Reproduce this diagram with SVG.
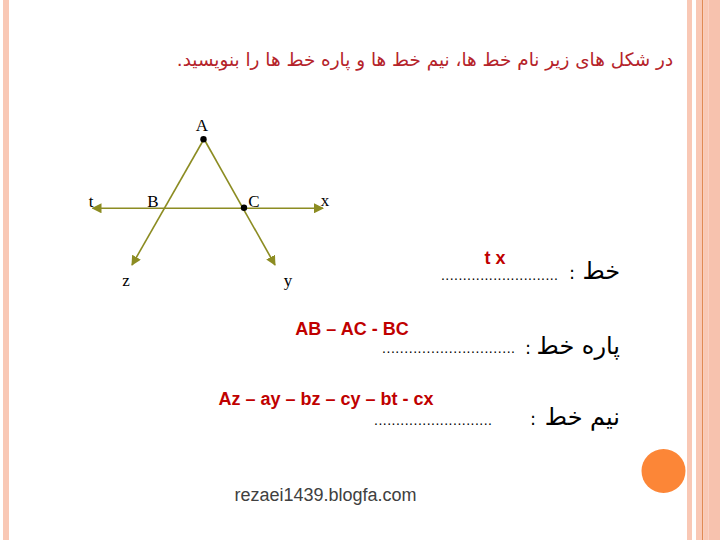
<svg xmlns="http://www.w3.org/2000/svg" width="720" height="540" viewBox="0 0 720 540">
<style>
.stripe{fill:#F9C8B5}
.geo{stroke:#8C8C22;stroke-width:1.6;fill:none}
.lbl{font-family:"Liberation Serif",serif;font-size:17px;fill:#000}
.ans{font-family:"Liberation Sans",Arial,sans-serif;font-size:18px;font-weight:bold;fill:#C00000}
.fa{font-family:"DejaVu Sans","Noto Sans",sans-serif;fill:#000}
.dots{font-family:"Liberation Sans",Arial,sans-serif;font-size:14px;fill:#000}
</style>
<defs>
<marker id="arr" viewBox="0 0 10 10" refX="9" refY="5" markerWidth="10" markerHeight="10" markerUnits="userSpaceOnUse" orient="auto">
<path d="M0,0 L10,5 L0,10 z" fill="#8C8C22"/>
</marker>
</defs>
<rect width="720" height="540" fill="#FFFFFF"/>
<g id="frame">
<rect class="stripe" x="3" y="0" width="6" height="540"/>
<rect class="stripe" x="687" y="0" width="5" height="540"/>
<rect class="stripe" x="696" y="0" width="6" height="540"/>
<rect x="702" y="0" width="1.3" height="540" fill="#E08A55"/>
<rect class="stripe" x="703.3" y="0" width="5.2" height="540"/>
<rect x="708.5" y="0" width="11.5" height="540" fill="#F7C2AE"/>
<circle cx="663.5" cy="471" r="22" fill="#FC8637"/>
</g>
<g id="title">
<text x="425" y="66" text-anchor="middle" direction="rtl" font-family="DejaVu Sans,sans-serif" font-size="18.4" fill="#B5232A">در شکل های زیر نام خط ها، نیم خط ها و پاره خط ها را بنویسید.</text>
</g>
<g id="connectors">
<line class="geo" x1="204" y1="139" x2="132" y2="265" marker-end="url(#arr)"/>
<line class="geo" x1="204" y1="139" x2="275" y2="265" marker-end="url(#arr)"/>
<line class="geo" x1="164" y1="208.3" x2="92.5" y2="208.3" marker-end="url(#arr)"/>
<line class="geo" x1="164" y1="208.3" x2="323" y2="208.3" marker-end="url(#arr)"/>
</g>
<g id="point-A"><circle cx="203.5" cy="139.3" r="3.2" fill="#000"/><text class="lbl" x="202" y="131" text-anchor="middle">A</text></g>
<g id="point-B"><text class="lbl" x="153" y="207" text-anchor="middle">B</text></g>
<g id="point-C"><circle cx="244" cy="207.8" r="3.2" fill="#000"/><text class="lbl" x="254" y="207" text-anchor="middle">C</text></g>
<g id="point-t"><text class="lbl" x="91" y="207" text-anchor="middle">t</text></g>
<g id="point-x"><text class="lbl" x="325" y="206" text-anchor="middle">x</text></g>
<g id="point-z"><text class="lbl" x="126" y="286" text-anchor="middle">z</text></g>
<g id="point-y"><text class="lbl" x="288" y="286" text-anchor="middle">y</text></g>
<g id="row-line">
<text class="fa" x="620" y="279" text-anchor="end" font-size="24">خط</text>
<text class="fa" x="572" y="279" text-anchor="middle" font-size="18">:</text>
<text class="dots" x="441" y="280" textLength="117" lengthAdjust="spacing">...........................</text>
<text class="ans" x="495" y="264" text-anchor="middle">t x</text>
</g>
<g id="row-segment">
<text class="fa" x="620" y="354" text-anchor="end" font-size="24">پاره خط</text>
<text class="fa" x="528" y="354" text-anchor="middle" font-size="18">:</text>
<text class="dots" x="382" y="353" textLength="133" lengthAdjust="spacing">..............................</text>
<text class="ans" x="352" y="335" text-anchor="middle">AB – AC - BC</text>
</g>
<g id="row-ray">
<text class="fa" x="620" y="425" text-anchor="end" font-size="24">نیم خط</text>
<text class="fa" x="533" y="425" text-anchor="middle" font-size="18">:</text>
<text class="dots" x="374" y="425" textLength="118" lengthAdjust="spacing">...........................</text>
<text class="ans" x="326" y="405" text-anchor="middle">Az – ay – bz – cy – bt - cx</text>
</g>
<g id="footer">
<text x="325.5" y="501" text-anchor="middle" font-family="Liberation Sans,Arial,sans-serif" font-size="18" fill="#404040">rezaei1439.blogfa.com</text>
</g>
</svg>
